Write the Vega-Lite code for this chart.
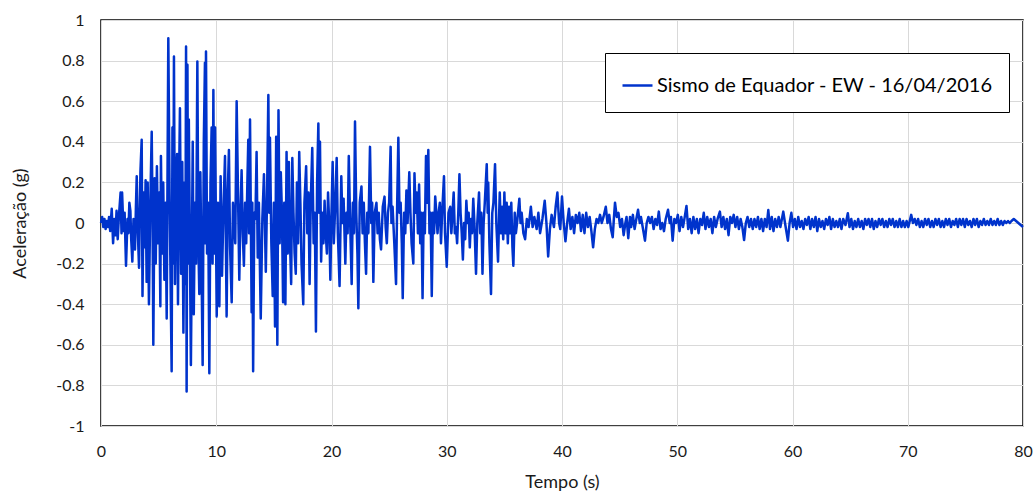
{
"$schema": "https://vega.github.io/schema/vega-lite/v6.json",
"width": 922, "height": 406,
"autosize": {"type": "none"},
"padding": {"left": 101, "top": 20, "right": 11, "bottom": 65},
"background": "white",
"config": {"view": {"stroke": "black", "strokeWidth": 1.5}, "font": "Lato"},
"data": {"values": [
{"t":0,"a":0},{"t":0.1,"a":0.03},{"t":0.2,"a":-0.02},{"t":0.3,"a":0.02},{"t":0.4,"a":-0.03},{"t":0.5,"a":0.01},{"t":0.6,"a":-0.02},{"t":0.7,"a":0.03},{"t":0.8,"a":-0.04},{"t":0.93,"a":0.07},
{"t":1.05,"a":-0.1},{"t":1.15,"a":0.02},{"t":1.25,"a":-0.06},{"t":1.35,"a":0.06},{"t":1.45,"a":-0.08},{"t":1.55,"a":0.03},{"t":1.7,"a":0.15},{"t":1.78,"a":-0.05},{"t":1.83,"a":0.15},{"t":1.95,"a":-0.04},
{"t":2.05,"a":0.05},{"t":2.17,"a":-0.21},{"t":2.3,"a":0.02},{"t":2.38,"a":-0.05},{"t":2.46,"a":0.1},{"t":2.55,"a":0.06},{"t":2.62,"a":-0.08},{"t":2.72,"a":-0.19},{"t":2.82,"a":0.02},{"t":2.95,"a":-0.13},
{"t":3.03,"a":0.08},{"t":3.1,"a":0.23},{"t":3.2,"a":-0.05},{"t":3.3,"a":-0.22},{"t":3.42,"a":0.25},{"t":3.53,"a":0.41},{"t":3.6,"a":-0.36},{"t":3.7,"a":0.15},{"t":3.78,"a":-0.12},{"t":3.87,"a":0.21},{"t":3.96,"a":-0.29},
{"t":4.05,"a":0.2},{"t":4.16,"a":-0.4},{"t":4.28,"a":0.1},{"t":4.4,"a":0.45},{"t":4.47,"a":0.05},{"t":4.54,"a":-0.6},{"t":4.65,"a":0.22},{"t":4.75,"a":-0.2},{"t":4.85,"a":0.28},{"t":4.95,"a":-0.1},
{"t":5.05,"a":0.15},{"t":5.15,"a":-0.41},{"t":5.2,"a":0.33},{"t":5.3,"a":-0.15},{"t":5.4,"a":0.2},{"t":5.5,"a":-0.28},{"t":5.6,"a":0.1},{"t":5.7,"a":-0.47},{"t":5.84,"a":0.91},{"t":5.95,"a":0.15},
{"t":6.05,"a":-0.35},{"t":6.13,"a":-0.73},{"t":6.2,"a":0.47},{"t":6.27,"a":-0.2},{"t":6.33,"a":0.82},{"t":6.42,"a":-0.3},{"t":6.5,"a":0.2},{"t":6.6,"a":0.34},{"t":6.68,"a":-0.4},{"t":6.75,"a":0.1},{"t":6.85,"a":0.565},{"t":6.95,"a":-0.25},
{"t":7.05,"a":0.3},{"t":7.15,"a":-0.54},{"t":7.25,"a":0.2},{"t":7.32,"a":-0.3},{"t":7.38,"a":0.87},{"t":7.43,"a":-0.83},{"t":7.5,"a":0.78},{"t":7.56,"a":-0.2},{"t":7.62,"a":0.51},{"t":7.8,"a":-0.7},{"t":7.96,"a":0.4},
{"t":8.05,"a":-0.45},{"t":8.15,"a":0.1},{"t":8.25,"a":-0.2},{"t":8.36,"a":0.795},{"t":8.45,"a":-0.1},{"t":8.53,"a":-0.35},{"t":8.62,"a":0.25},{"t":8.72,"a":-0.2},{"t":8.82,"a":-0.7},{"t":8.92,"a":0.4},
{"t":9.02,"a":0.79},{"t":9.06,"a":-0.1},{"t":9.11,"a":0.845},{"t":9.2,"a":-0.15},{"t":9.3,"a":0.1},{"t":9.4,"a":-0.74},{"t":9.5,"a":0.2},{"t":9.6,"a":0.47},{"t":9.68,"a":-0.2},{"t":9.75,"a":0.655},{"t":9.82,"a":-0.15},{"t":9.9,"a":0.47},
{"t":10.04,"a":-0.46},{"t":10.15,"a":0.1},{"t":10.27,"a":-0.41},{"t":10.38,"a":0.23},{"t":10.5,"a":-0.26},{"t":10.62,"a":0.05},{"t":10.76,"a":0.33},{"t":10.9,"a":-0.46},
{"t":11.0,"a":0.15},{"t":11.1,"a":0.36},{"t":11.2,"a":-0.12},{"t":11.34,"a":-0.39},{"t":11.45,"a":0.1},{"t":11.55,"a":0.01},{"t":11.65,"a":-0.1},{"t":11.77,"a":0.6},{"t":11.9,"a":0.1},
{"t":12.0,"a":-0.28},{"t":12.1,"a":0.05},{"t":12.2,"a":0.26},{"t":12.3,"a":-0.05},{"t":12.4,"a":-0.21},{"t":12.5,"a":0.1},{"t":12.6,"a":-0.1},{"t":12.7,"a":0.2},{"t":12.78,"a":0.41},{"t":12.85,"a":-0.05},{"t":12.93,"a":0.51},
{"t":13.07,"a":-0.44},{"t":13.13,"a":0.1},{"t":13.2,"a":-0.73},{"t":13.3,"a":0.05},{"t":13.4,"a":0.02},{"t":13.5,"a":0.35},{"t":13.6,"a":-0.17},{"t":13.7,"a":0.1},{"t":13.86,"a":-0.47},
{"t":14.0,"a":0.02},{"t":14.14,"a":0.24},{"t":14.3,"a":-0.24},{"t":14.4,"a":0.1},{"t":14.52,"a":0.63},{"t":14.6,"a":0.05},{"t":14.66,"a":0.42},{"t":14.78,"a":-0.1},{"t":14.9,"a":-0.36},
{"t":15.0,"a":0.1},{"t":15.1,"a":-0.51},{"t":15.2,"a":0.425},{"t":15.3,"a":-0.6},{"t":15.4,"a":0.555},{"t":15.5,"a":-0.1},{"t":15.6,"a":0.25},{"t":15.7,"a":0.05},{"t":15.8,"a":-0.39},{"t":15.9,"a":0.1},
{"t":16.0,"a":-0.4},{"t":16.1,"a":0.35},{"t":16.2,"a":-0.15},{"t":16.3,"a":0.3},{"t":16.4,"a":-0.1},{"t":16.5,"a":-0.3},{"t":16.6,"a":0.32},{"t":16.7,"a":0.05},{"t":16.8,"a":-0.15},{"t":16.9,"a":-0.25},
{"t":17.0,"a":0.2},{"t":17.1,"a":-0.1},{"t":17.2,"a":0.35},{"t":17.3,"a":0.1},{"t":17.4,"a":-0.2},{"t":17.55,"a":-0.4},{"t":17.65,"a":0.1},{"t":17.8,"a":0.28},{"t":17.9,"a":-0.05},
{"t":18.0,"a":0.15},{"t":18.1,"a":-0.3},{"t":18.2,"a":0.1},{"t":18.33,"a":0.37},{"t":18.45,"a":-0.1},{"t":18.55,"a":0.05},{"t":18.65,"a":-0.535},{"t":18.75,"a":0.2},{"t":18.86,"a":0.49},{"t":18.93,"a":0.05},
{"t":19.0,"a":0.4},{"t":19.1,"a":-0.19},{"t":19.2,"a":0.05},{"t":19.3,"a":-0.1},{"t":19.4,"a":0.11},{"t":19.5,"a":-0.05},{"t":19.6,"a":-0.15},{"t":19.7,"a":0.15},{"t":19.8,"a":0.0},{"t":19.9,"a":-0.28},
{"t":20.0,"a":0.05},{"t":20.1,"a":0.3},{"t":20.2,"a":-0.1},{"t":20.3,"a":0.05},{"t":20.45,"a":0.32},{"t":20.55,"a":-0.05},{"t":20.7,"a":-0.31},{"t":20.85,"a":0.23},{"t":20.95,"a":0.0},
{"t":21.05,"a":0.12},{"t":21.2,"a":-0.2},{"t":21.3,"a":0.05},{"t":21.4,"a":-0.05},{"t":21.5,"a":0.33},{"t":21.6,"a":0.05},{"t":21.75,"a":-0.3},{"t":21.85,"a":0.1},{"t":21.95,"a":-0.05},
{"t":22.04,"a":0.5},{"t":22.15,"a":0.05},{"t":22.25,"a":-0.15},{"t":22.33,"a":-0.42},{"t":22.45,"a":0.1},{"t":22.6,"a":0.18},{"t":22.7,"a":-0.05},{"t":22.8,"a":0.1},{"t":22.9,"a":-0.1},
{"t":23.0,"a":-0.25},{"t":23.1,"a":0.05},{"t":23.2,"a":-0.05},{"t":23.34,"a":0.375},{"t":23.45,"a":0.0},{"t":23.53,"a":0.1},{"t":23.63,"a":-0.29},{"t":23.75,"a":0.05},{"t":23.9,"a":0.1},
{"t":24.0,"a":-0.05},{"t":24.1,"a":0.05},{"t":24.2,"a":-0.08},{"t":24.3,"a":-0.13},{"t":24.45,"a":0.08},{"t":24.6,"a":0.13},{"t":24.7,"a":-0.02},{"t":24.8,"a":-0.1},{"t":24.9,"a":0.05},
{"t":25.0,"a":0.1},{"t":25.13,"a":0.375},{"t":25.2,"a":0.0},{"t":25.3,"a":0.08},{"t":25.45,"a":-0.1},{"t":25.6,"a":-0.3},{"t":25.7,"a":0.1},{"t":25.8,"a":0.42},{"t":25.9,"a":0.05},
{"t":26.0,"a":0.1},{"t":26.1,"a":-0.1},{"t":26.18,"a":-0.37},{"t":26.3,"a":0.05},{"t":26.4,"a":-0.05},{"t":26.5,"a":0.16},{"t":26.6,"a":0.0},{"t":26.75,"a":0.25},{"t":26.85,"a":0.05},{"t":26.95,"a":-0.1},
{"t":27.1,"a":-0.2},{"t":27.2,"a":0.245},{"t":27.3,"a":0.05},{"t":27.4,"a":0.15},{"t":27.5,"a":-0.05},{"t":27.6,"a":0.19},{"t":27.7,"a":-0.1},{"t":27.8,"a":0.05},{"t":27.9,"a":-0.37},
{"t":28.0,"a":0.05},{"t":28.1,"a":-0.05},{"t":28.2,"a":0.33},{"t":28.3,"a":0.1},{"t":28.4,"a":0.36},{"t":28.5,"a":-0.05},{"t":28.6,"a":0.05},{"t":28.7,"a":-0.36},{"t":28.8,"a":0.05},{"t":28.9,"a":-0.05},
{"t":29.0,"a":0.13},{"t":29.1,"a":0.05},{"t":29.2,"a":-0.05},{"t":29.3,"a":0.05},{"t":29.4,"a":0.1},{"t":29.5,"a":-0.1},{"t":29.6,"a":0.05},{"t":29.76,"a":0.23},{"t":29.85,"a":-0.05},
{"t":30.0,"a":-0.215},{"t":30.15,"a":0.05},{"t":30.3,"a":0.08},{"t":30.4,"a":-0.05},{"t":30.5,"a":0.05},{"t":30.6,"a":0.15},{"t":30.7,"a":-0.05},{"t":30.8,"a":-0.02},{"t":30.9,"a":-0.1},
{"t":31.0,"a":0.05},{"t":31.1,"a":0.24},{"t":31.2,"a":0.05},{"t":31.3,"a":-0.05},{"t":31.4,"a":-0.18},{"t":31.5,"a":0.0},{"t":31.6,"a":-0.08},{"t":31.7,"a":0.11},{"t":31.8,"a":0.0},{"t":31.9,"a":0.05},
{"t":32.0,"a":-0.12},{"t":32.1,"a":0.02},{"t":32.2,"a":-0.05},{"t":32.3,"a":0.12},{"t":32.4,"a":0.0},{"t":32.54,"a":-0.25},{"t":32.65,"a":0.0},{"t":32.8,"a":0.15},{"t":32.9,"a":-0.05},
{"t":33.0,"a":0.05},{"t":33.1,"a":-0.25},{"t":33.2,"a":0.0},{"t":33.3,"a":0.1},{"t":33.47,"a":0.29},{"t":33.55,"a":0.05},{"t":33.6,"a":0.2},{"t":33.7,"a":-0.1},{"t":33.84,"a":-0.35},{"t":33.95,"a":0.05},
{"t":34.05,"a":0.1},{"t":34.19,"a":0.29},{"t":34.3,"a":0.0},{"t":34.45,"a":-0.19},{"t":34.55,"a":0.05},{"t":34.6,"a":0.15},{"t":34.7,"a":-0.05},{"t":34.8,"a":0.08},{"t":34.9,"a":-0.08},
{"t":35.0,"a":0.15},{"t":35.1,"a":-0.05},{"t":35.2,"a":0.1},{"t":35.3,"a":-0.1},{"t":35.4,"a":0.08},{"t":35.5,"a":-0.05},{"t":35.6,"a":0.1},{"t":35.7,"a":-0.12},{"t":35.78,"a":-0.21},{"t":35.9,"a":0.05},
{"t":36.0,"a":-0.05},{"t":36.1,"a":0.0},{"t":36.3,"a":0.12},{"t":36.4,"a":0.0},{"t":36.5,"a":0.05},{"t":36.65,"a":-0.05},{"t":36.8,"a":-0.08},{"t":36.95,"a":0.02},
{"t":37.1,"a":-0.02},{"t":37.3,"a":0.08},{"t":37.45,"a":-0.02},{"t":37.6,"a":0.03},{"t":37.8,"a":-0.03},{"t":37.95,"a":0.05},{"t":38.1,"a":-0.05},{"t":38.3,"a":0.02},{"t":38.5,"a":0.11},{"t":38.65,"a":0.0},{"t":38.8,"a":-0.165},{"t":38.95,"a":-0.03},
{"t":39.1,"a":0.04},{"t":39.3,"a":-0.02},{"t":39.45,"a":0.08},{"t":39.6,"a":0.15},{"t":39.75,"a":0.0},{"t":39.85,"a":-0.03},{"t":40.0,"a":0.13},{"t":40.15,"a":0.0},{"t":40.3,"a":-0.09},{"t":40.45,"a":0.0},{"t":40.6,"a":0.07},{"t":40.75,"a":-0.03},{"t":40.9,"a":0.03},
{"t":41.05,"a":-0.05},{"t":41.2,"a":0.04},{"t":41.35,"a":0.0},{"t":41.5,"a":0.05},{"t":41.65,"a":-0.04},{"t":41.8,"a":0.04},{"t":41.95,"a":-0.05},{"t":42.1,"a":0.05},{"t":42.25,"a":-0.02},{"t":42.4,"a":0.03},{"t":42.55,"a":-0.04},{"t":42.7,"a":-0.12},{"t":42.85,"a":-0.03},
{"t":43.0,"a":0.02},{"t":43.15,"a":0.0},{"t":43.3,"a":0.04},{"t":43.45,"a":0.0},{"t":43.6,"a":0.03},{"t":43.8,"a":0.08},{"t":43.95,"a":0.0},{"t":44.1,"a":0.04},{"t":44.25,"a":-0.03},{"t":44.4,"a":-0.07},{"t":44.5,"a":0.02},{"t":44.6,"a":0.1},{"t":44.75,"a":0.03},{"t":44.9,"a":0.05},
{"t":45.05,"a":-0.02},{"t":45.2,"a":0.02},{"t":45.35,"a":-0.06},{"t":45.5,"a":0.0},{"t":45.6,"a":0.03},{"t":45.75,"a":-0.075},{"t":45.9,"a":0.03},{"t":46.0,"a":-0.02},{"t":46.15,"a":0.04},{"t":46.3,"a":-0.03},{"t":46.45,"a":0.02},{"t":46.6,"a":0.065},{"t":46.75,"a":0.0},{"t":46.85,"a":0.03},
{"t":47.0,"a":-0.02},{"t":47.2,"a":-0.087},{"t":47.35,"a":0.0},{"t":47.5,"a":0.03},{"t":47.65,"a":0.0},{"t":47.8,"a":0.03},{"t":47.95,"a":-0.03},{"t":48.1,"a":0.02},{"t":48.25,"a":-0.01},{"t":48.4,"a":0.056},{"t":48.55,"a":-0.03},{"t":48.7,"a":0.0},{"t":48.85,"a":-0.04},
{"t":49.0,"a":0.02},{"t":49.2,"a":0.065},{"t":49.35,"a":0.0},{"t":49.45,"a":0.03},{"t":49.6,"a":-0.087},{"t":49.75,"a":0.02},{"t":49.9,"a":0.0},{"t":50.05,"a":0.04},{"t":50.2,"a":-0.04},{"t":50.35,"a":0.03},{"t":50.5,"a":-0.02},{"t":50.65,"a":0.03},{"t":50.8,"a":0.084},{"t":50.95,"a":-0.03},
{"t":51.1,"a":0.02},{"t":51.25,"a":-0.05},{"t":51.4,"a":0.03},{"t":51.55,"a":-0.03},{"t":51.7,"a":0.02},{"t":51.85,"a":-0.05},{"t":52.0,"a":0.02},{"t":52.15,"a":-0.01},{"t":52.3,"a":0.05},{"t":52.45,"a":-0.03},{"t":52.6,"a":0.03},{"t":52.75,"a":-0.02},{"t":52.9,"a":0.02},
{"t":53.05,"a":-0.05},{"t":53.2,"a":0.03},{"t":53.35,"a":-0.02},{"t":53.5,"a":0.02},{"t":53.7,"a":0.056},{"t":53.85,"a":-0.02},{"t":54.0,"a":0.03},{"t":54.15,"a":-0.03},{"t":54.3,"a":0.02},{"t":54.45,"a":-0.06},{"t":54.6,"a":0.03},{"t":54.75,"a":0.0},{"t":54.9,"a":0.04},
{"t":55.05,"a":-0.02},{"t":55.2,"a":0.03},{"t":55.35,"a":-0.03},{"t":55.5,"a":0.02},{"t":55.65,"a":-0.02},{"t":55.8,"a":-0.084},{"t":55.95,"a":0.0},{"t":56.1,"a":0.03},{"t":56.25,"a":-0.02},{"t":56.4,"a":0.02},{"t":56.55,"a":-0.03},{"t":56.7,"a":0.02},{"t":56.85,"a":-0.02},
{"t":57.0,"a":0.03},{"t":57.15,"a":-0.03},{"t":57.3,"a":0.02},{"t":57.45,"a":-0.04},{"t":57.6,"a":0.02},{"t":57.75,"a":-0.02},{"t":57.9,"a":0.064},{"t":58.05,"a":-0.03},{"t":58.2,"a":0.03},{"t":58.35,"a":-0.04},{"t":58.5,"a":0.02},{"t":58.65,"a":-0.02},{"t":58.8,"a":0.03},{"t":58.95,"a":-0.02},
{"t":59.2,"a":0.056},{"t":59.35,"a":0.0},{"t":59.6,"a":-0.087},{"t":59.75,"a":0.0},{"t":59.9,"a":0.05},{"t":60.05,"a":-0.02},{"t":60.2,"a":0.02},{"t":60.35,"a":-0.03},{"t":60.5,"a":0.03},{"t":60.65,"a":-0.02},{"t":60.8,"a":0.01},{"t":60.95,"a":-0.03},
{"t":61.1,"a":0.02},{"t":61.25,"a":-0.01},{"t":61.4,"a":0.03},{"t":61.55,"a":-0.03},{"t":61.7,"a":0.02},{"t":61.85,"a":-0.02},{"t":62.0,"a":0.03},{"t":62.15,"a":-0.04},{"t":62.3,"a":0.02},{"t":62.45,"a":-0.02},{"t":62.6,"a":0.01},{"t":62.75,"a":-0.03},{"t":62.9,"a":0.02},
{"t":63.05,"a":-0.01},{"t":63.2,"a":0.03},{"t":63.35,"a":-0.03},{"t":63.5,"a":0.02},{"t":63.65,"a":-0.02},{"t":63.8,"a":0.01},{"t":63.95,"a":-0.02},{"t":64.1,"a":0.02},{"t":64.25,"a":-0.03},{"t":64.4,"a":0.02},{"t":64.6,"a":-0.01},{"t":64.8,"a":0.048},{"t":64.95,"a":-0.02},
{"t":65.1,"a":0.02},{"t":65.25,"a":-0.03},{"t":65.4,"a":0.01},{"t":65.55,"a":-0.02},{"t":65.7,"a":0.02},{"t":65.85,"a":-0.02},{"t":66.0,"a":0.01},{"t":66.15,"a":-0.03},{"t":66.3,"a":0.02},{"t":66.45,"a":-0.01},{"t":66.6,"a":0.02},{"t":66.75,"a":-0.02},{"t":66.9,"a":0.02},
{"t":67.05,"a":-0.03},{"t":67.2,"a":0.01},{"t":67.35,"a":-0.02},{"t":67.5,"a":0.02},{"t":67.65,"a":-0.01},{"t":67.8,"a":0.02},{"t":67.95,"a":-0.02},{"t":68.1,"a":0.01},{"t":68.25,"a":-0.02},{"t":68.4,"a":0.02},{"t":68.55,"a":-0.01},{"t":68.7,"a":0.02},{"t":68.85,"a":-0.02},
{"t":69.0,"a":0.01},{"t":69.15,"a":-0.02},{"t":69.3,"a":0.02},{"t":69.45,"a":-0.02},{"t":69.6,"a":0.01},{"t":69.75,"a":-0.02},{"t":69.9,"a":0.01},{"t":70.05,"a":-0.02},{"t":70.3,"a":0.04},{"t":70.45,"a":0.0},{"t":70.6,"a":0.02},{"t":70.75,"a":-0.01},{"t":70.9,"a":0.02},
{"t":71.05,"a":-0.02},{"t":71.2,"a":0.01},{"t":71.35,"a":-0.02},{"t":71.5,"a":0.02},{"t":71.65,"a":-0.01},{"t":71.8,"a":0.02},{"t":71.95,"a":-0.02},{"t":72.1,"a":0.01},{"t":72.25,"a":-0.02},{"t":72.4,"a":0.02},{"t":72.55,"a":-0.01},{"t":72.7,"a":0.02},{"t":72.85,"a":-0.02},
{"t":73.0,"a":0.01},{"t":73.15,"a":-0.02},{"t":73.3,"a":0.02},{"t":73.45,"a":-0.01},{"t":73.6,"a":0.02},{"t":73.75,"a":-0.02},{"t":73.9,"a":0.01},{"t":74.05,"a":-0.01},{"t":74.2,"a":0.02},{"t":74.35,"a":-0.02},{"t":74.5,"a":0.02},{"t":74.65,"a":-0.01},{"t":74.8,"a":0.02},{"t":74.95,"a":-0.02},
{"t":75.1,"a":0.02},{"t":75.25,"a":-0.01},{"t":75.4,"a":0.01},{"t":75.55,"a":-0.02},{"t":75.7,"a":0.02},{"t":75.85,"a":-0.01},{"t":76.0,"a":0.02},{"t":76.15,"a":-0.02},{"t":76.3,"a":0.01},{"t":76.45,"a":-0.01},{"t":76.6,"a":0.02},{"t":76.75,"a":-0.01},{"t":76.9,"a":0.01},
{"t":77.05,"a":-0.01},{"t":77.2,"a":0.02},{"t":77.35,"a":-0.01},{"t":77.5,"a":0.01},{"t":77.65,"a":-0.01},{"t":77.8,"a":0.02},{"t":77.95,"a":-0.01},{"t":78.1,"a":0.01},{"t":78.25,"a":-0.01},{"t":78.4,"a":0.01},{"t":78.55,"a":0.0},{"t":78.7,"a":0.01},{"t":78.85,"a":0.0},
{"t":79.0,"a":0.01},{"t":79.2,"a":0.02},{"t":79.4,"a":0.01},{"t":79.6,"a":0.0},{"t":79.8,"a":-0.01},{"t":80.0,"a":-0.02}
]},
"mark": {"type": "line", "strokeWidth": 2.5, "interpolate": "linear", "strokeJoin": "round"},
"encoding": {
"x": {"field": "t", "type": "quantitative", "scale": {"domain": [0, 80], "nice": false, "zero": false},
 "axis": {"values": [0,10,20,30,40,50,60,70,80], "title": "Tempo (s)", "grid": true, "gridColor": "#D9D9D9", "gridWidth": 1, "ticks": false, "domain": false,
  "labelFontSize": 16, "labelPadding": 17, "labelColor": "#1a1a1a", "labelFlush": false,
  "titleFontSize": 18, "titleFontWeight": "normal", "titleColor": "#1a1a1a", "titleY": 56, "titleBaseline": "middle"}},
"y": {"field": "a", "type": "quantitative", "scale": {"domain": [-1, 1], "nice": false},
 "axis": {"values": [-1,-0.8,-0.6,-0.4,-0.2,0,0.2,0.4,0.6,0.8,1], "title": "Aceleração (g)", "grid": true, "gridColor": "#D9D9D9", "gridWidth": 1, "ticks": false, "domain": false,
  "labelExpr": "(datum.value < 0 ? '-' : '') + format(abs(datum.value), '~g')",
  "labelFontSize": 16, "labelPadding": 17, "labelColor": "#1a1a1a",
  "titleFontSize": 18, "titleFontWeight": "normal", "titleColor": "#1a1a1a", "titleX": -81, "titleY": 203, "titleBaseline": "middle", "titleAlign": "center", "titleAngle": -90}},
"color": {"datum": "Sismo de Equador - EW - 16/04/2016", "scale": {"range": ["#0033CC"]},
 "legend": {"title": null, "orient": "none", "legendX": 504, "legendY": 33, "strokeColor": "black", "fillColor": "white", "padding": 16,
  "symbolType": "stroke", "symbolSize": 900, "symbolStrokeWidth": 2.5, "labelFontSize": 20, "labelColor": "black", "labelOffset": 3, "labelLimit": 600}}
}
}
